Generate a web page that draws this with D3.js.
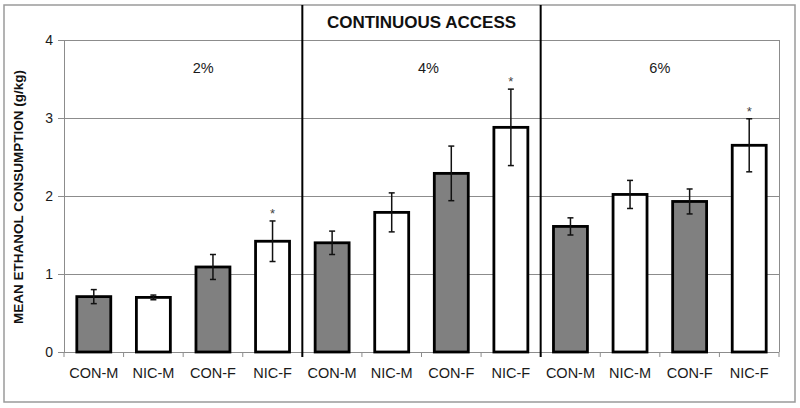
<!DOCTYPE html>
<html><head><meta charset="utf-8">
<script src="https://cdn.jsdelivr.net/npm/d3@7"></script>
<style>body{margin:0;background:#fff}svg{display:block;font-family:"Liberation Sans",Arial,sans-serif}</style>
</head><body><svg id="c" width="800" height="408"></svg>
<script>
const concentrations = ["2%", "4%", "6%"];
const groups = ["CON-M", "NIC-M", "CON-F", "NIC-F"];
const groupFills = ["#808080", "#ffffff", "#808080", "#ffffff"];
const mean2 = [0.71, 0.70, 1.09, 1.42];
const sem2  = [0.09, 0.03, 0.16, 0.26];
const mean4 = [1.40, 1.79, 2.29, 2.88];
const sem4  = [0.15, 0.25, 0.35, 0.49];
const mean6 = [1.61, 2.02, 1.93, 2.65];
const sem6  = [0.11, 0.18, 0.16, 0.34];
const significant = [false, false, false, true];
const yTicks = [0, 1, 2, 3, 4];
const title = "CONTINUOUS ACCESS";
const yTitle = "MEAN ETHANOL CONSUMPTION (g/kg)";

const means = [mean2, mean4, mean6], sems = [sem2, sem4, sem6];
const rows = [];
concentrations.forEach((c, gi) => groups.forEach((g, i) => rows.push({
  key: c + "|" + g, conc: c, group: g, i, mean: means[gi][i], sem: sems[gi][i], sig: significant[i]
})));

const svg = d3.select("#c");
const L = 64, R = 779, T = 40, B = 352;
const x = d3.scaleBand().domain(rows.map(d => d.key)).range([L, R]).paddingInner(0.43).paddingOuter(0.215);
const y = d3.scaleLinear().domain([0, 4]).range([B, T]);

// outer border
svg.append("rect").attr("x", 4).attr("y", 5).attr("width", 791).attr("height", 397)
  .attr("fill", "none").attr("stroke", "#9a9a9a").attr("stroke-width", 1.5);

// gridlines
svg.append("g").selectAll("line").data(yTicks.filter(t => t > 0)).join("line")
  .attr("x1", L).attr("x2", R).attr("y1", d => Math.round(y(d)) + 0.5).attr("y2", d => Math.round(y(d)) + 0.5)
  .attr("stroke", "#8c8c8c").attr("stroke-width", 1);
// right plot border
svg.append("line").attr("x1", R + 0.5).attr("x2", R + 0.5).attr("y1", T).attr("y2", B)
  .attr("stroke", "#8c8c8c");

// y axis
const ya = svg.append("g").attr("transform", `translate(${L},0)`)
  .call(d3.axisLeft(y).tickValues(yTicks).tickFormat(d3.format("d")).tickSize(6).tickPadding(5));
ya.select(".domain").attr("stroke", "#8c8c8c");
ya.selectAll(".tick line").attr("stroke", "#8c8c8c");
ya.selectAll("text").attr("font-size", 14).attr("fill", "#1a1a1a").attr("font-family", "Liberation Sans, Arial");

// x axis baseline and ticks at category boundaries
const step = x.step();
const bounds = d3.range(rows.length + 1).map(k => L + k * step);
svg.append("line").attr("x1", L).attr("x2", R).attr("y1", B + 0.5).attr("y2", B + 0.5).attr("stroke", "#8c8c8c");
svg.append("g").selectAll("line").data(bounds).join("line")
  .attr("x1", d => d).attr("x2", d => d).attr("y1", B).attr("y2", B + 5).attr("stroke", "#8c8c8c");
svg.append("g").selectAll("text").data(rows).join("text")
  .attr("x", d => x(d.key) + x.bandwidth() / 2).attr("y", 378)
  .attr("text-anchor", "middle").attr("font-size", 14.5).attr("fill", "#1a1a1a").text(d => d.group);

// bars
svg.append("g").selectAll("rect").data(rows).join("rect")
  .attr("x", d => x(d.key)).attr("width", x.bandwidth())
  .attr("y", d => y(d.mean)).attr("height", d => y(0) - y(d.mean))
  .attr("fill", d => groupFills[d.i]).attr("stroke", "#000").attr("stroke-width", 2.8);

// error bars
const eb = svg.append("g").attr("stroke", "#111").attr("stroke-width", 1.5);
rows.forEach(d => {
  const cx = x(d.key) + x.bandwidth() / 2;
  const y1 = y(d.mean + d.sem), y2 = y(d.mean - d.sem);
  eb.append("line").attr("x1", cx).attr("x2", cx).attr("y1", y1).attr("y2", y2);
  eb.append("line").attr("x1", cx - 3).attr("x2", cx + 3).attr("y1", y1).attr("y2", y1);
  eb.append("line").attr("x1", cx - 3).attr("x2", cx + 3).attr("y1", y2).attr("y2", y2);
});
// asterisks
svg.append("g").selectAll("text").data(rows.filter(d => d.sig)).join("text")
  .attr("x", d => x(d.key) + x.bandwidth() / 2).attr("y", d => y(d.mean + d.sem) - 3)
  .attr("text-anchor", "middle").attr("font-size", 13).attr("fill", "#444").text("*");

// separators between concentration blocks
[4, 8].forEach(k => {
  svg.append("line").attr("x1", bounds[k]).attr("x2", bounds[k]).attr("y1", 5).attr("y2", B + 5)
    .attr("stroke", "#000").attr("stroke-width", 2);
});

// concentration labels
const labelShift = [20, 7, 0];
concentrations.forEach((c, gi) => {
  const cx = bounds[gi * 4 + 2] + labelShift[gi];
  svg.append("text").attr("x", cx).attr("y", 73).attr("text-anchor", "middle")
    .attr("font-size", 14.5).attr("fill", "#1a1a1a").text(c);
});

// title
svg.append("text").attr("x", bounds[6]).attr("y", 28).attr("text-anchor", "middle")
  .attr("font-size", 17).attr("font-weight", "bold").attr("fill", "#111").text(title);

// y title
svg.append("text").attr("transform", `translate(23,197) rotate(-90)`).attr("text-anchor", "middle")
  .attr("font-size", 13.5).attr("font-weight", "bold").attr("fill", "#111").text(yTitle);
</script></body></html>
